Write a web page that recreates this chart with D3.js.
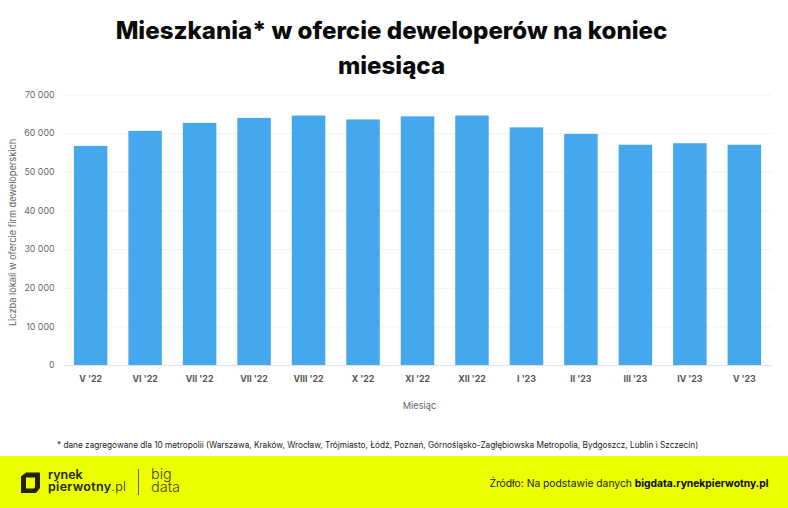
<!DOCTYPE html>
<html>
<head>
<meta charset="utf-8">
<script src="https://cdnjs.cloudflare.com/ajax/libs/d3/7.8.5/d3.min.js"></script>
<style>
  html, body { margin: 0; padding: 0; background: #fff; }
  text { font-family: Inter, "Open Sans", sans-serif; }
</style>
</head>
<body>
<div id="chart"></div>
<script>
const months = ["V '22", "VI '22", "VII '22", "VII '22", "VIII '22", "X '22", "XI '22", "XII '22", "I '23", "II '23", "III '23", "IV '23", "V '23"];
const flats = [56700, 60600, 62650, 63950, 64550, 63550, 64350, 64550, 61500, 59800, 57000, 57400, 57000];
const yTicks = [0, 10000, 20000, 30000, 40000, 50000, 60000, 70000];
const titleLines = ["Mieszkania* w ofercie deweloperów na koniec", "miesiąca"];

const width = 788, height = 508;
const svg = d3.select("#chart").append("svg")
  .attr("width", width).attr("height", height)
  .style("display", "block");

const x = d3.scaleBand().domain(d3.range(months.length)).range([63, 772]).paddingInner(0.385).paddingOuter(0.2);
const y = d3.scaleLinear().domain([0, 70000]).range([365, 94.5]);

// title
svg.selectAll(".title").data(titleLines).enter().append("text")
  .attr("class", "title")
  .attr("x", 391.5)
  .attr("y", (d, i) => 39 + i * 35)
  .attr("text-anchor", "middle")
  .attr("font-size", 24.1)
  .attr("font-weight", 800)
  .attr("fill", "#0a0a0a")
  .text(d => d);

// grid + y labels
const yAxis = d3.axisLeft(y).tickValues(yTicks).tickSize(-(772 - 63))
  .tickFormat(d => d3.format(",")(d).replace(",", " "));
const gy = svg.append("g").attr("transform", "translate(63,0)").call(yAxis);
gy.select(".domain").remove();
gy.selectAll(".tick line").attr("stroke", d => d === 0 ? "#dfe3e8" : "#f1f3f5").attr("stroke-width", 1);
gy.selectAll(".tick text").attr("x", -8.5).attr("font-size", 8.8).attr("fill", "#666")
  .style("font-family", "Inter, sans-serif");

// bars
svg.selectAll(".bar").data(flats).enter().append("rect")
  .attr("class", "bar")
  .attr("x", (d, i) => x(i))
  .attr("y", d => y(d))
  .attr("width", x.bandwidth())
  .attr("height", d => y(0) - y(d))
  .attr("fill", "#45a8ee");

// x labels
const xAxis = d3.axisBottom(x).tickSize(0).tickFormat(i => months[i]);
const gx = svg.append("g").attr("transform", "translate(0,365)").call(xAxis);
gx.select(".domain").remove();
gx.selectAll(".tick text").attr("y", 11).attr("font-size", 8.8).attr("font-weight", 700).attr("fill", "#555")
  .style("font-family", "Inter, sans-serif");

// axis titles
svg.append("text").attr("x", 419.5).attr("y", 409).attr("text-anchor", "middle")
  .attr("font-size", 9.2).attr("fill", "#666").text("Miesiąc");
svg.append("text").attr("transform", "translate(15.5,232.5) rotate(-90)").attr("text-anchor", "middle")
  .attr("font-size", 9.2).attr("fill", "#666").text("Liczba lokali w ofercie firm deweloperskich");

// footnote
svg.append("text").attr("x", 57).attr("y", 448).attr("font-size", 8.24).attr("fill", "#222")
  .text("* dane zagregowane dla 10 metropolii (Warszawa, Kraków, Wrocław, Trójmiasto, Łódź, Poznań, Górnośląsko-Zagłębiowska Metropolia, Bydgoszcz, Lublin i Szczecin)");

// footer band
const footer = svg.append("g");
footer.append("rect").attr("x", 0).attr("y", 456).attr("width", width).attr("height", 52).attr("fill", "#ecff00");

// logo mark
footer.append("path")
  .attr("d", "M21 476.5 L26 472.5 L40 472.5 L40 488 L36 493 L21 493 Z M26 477.5 L26 488.5 L34 488.5 L35 487 L35 477.5 Z")
  .attr("fill-rule", "evenodd").attr("fill", "#23230f");

footer.append("text").attr("x", 48).attr("y", 478.5).attr("font-size", 12.5).attr("font-weight", 600).attr("fill", "#23230f").text("rynek");
const logo2 = footer.append("text").attr("x", 48).attr("y", 490.5).attr("font-size", 12.5).attr("letter-spacing", 0.3).attr("fill", "#23230f");
logo2.append("tspan").attr("font-weight", 600).text("pierwotny");
logo2.append("tspan").attr("font-weight", 300).text(".pl");

footer.append("line").attr("x1", 138.5).attr("x2", 138.5).attr("y1", 469).attr("y2", 495).attr("stroke", "#45480a").attr("stroke-width", 0.8);
footer.append("text").attr("x", 151).attr("y", 479).attr("font-size", 14.5).attr("font-weight", 300).attr("fill", "#45480a").text("big");
footer.append("text").attr("x", 151).attr("y", 491.5).attr("font-size", 14.5).attr("font-weight", 300).attr("fill", "#45480a").text("data");

const source = footer.append("text").attr("x", 768.5).attr("y", 486.5).attr("text-anchor", "end").attr("font-size", 10.3).attr("fill", "#222");
source.append("tspan").text("Źródło: Na podstawie danych ");
source.append("tspan").attr("font-weight", 700).attr("fill", "#0a0a0a").text("bigdata.rynekpierwotny.pl");
</script>
</body>
</html>
